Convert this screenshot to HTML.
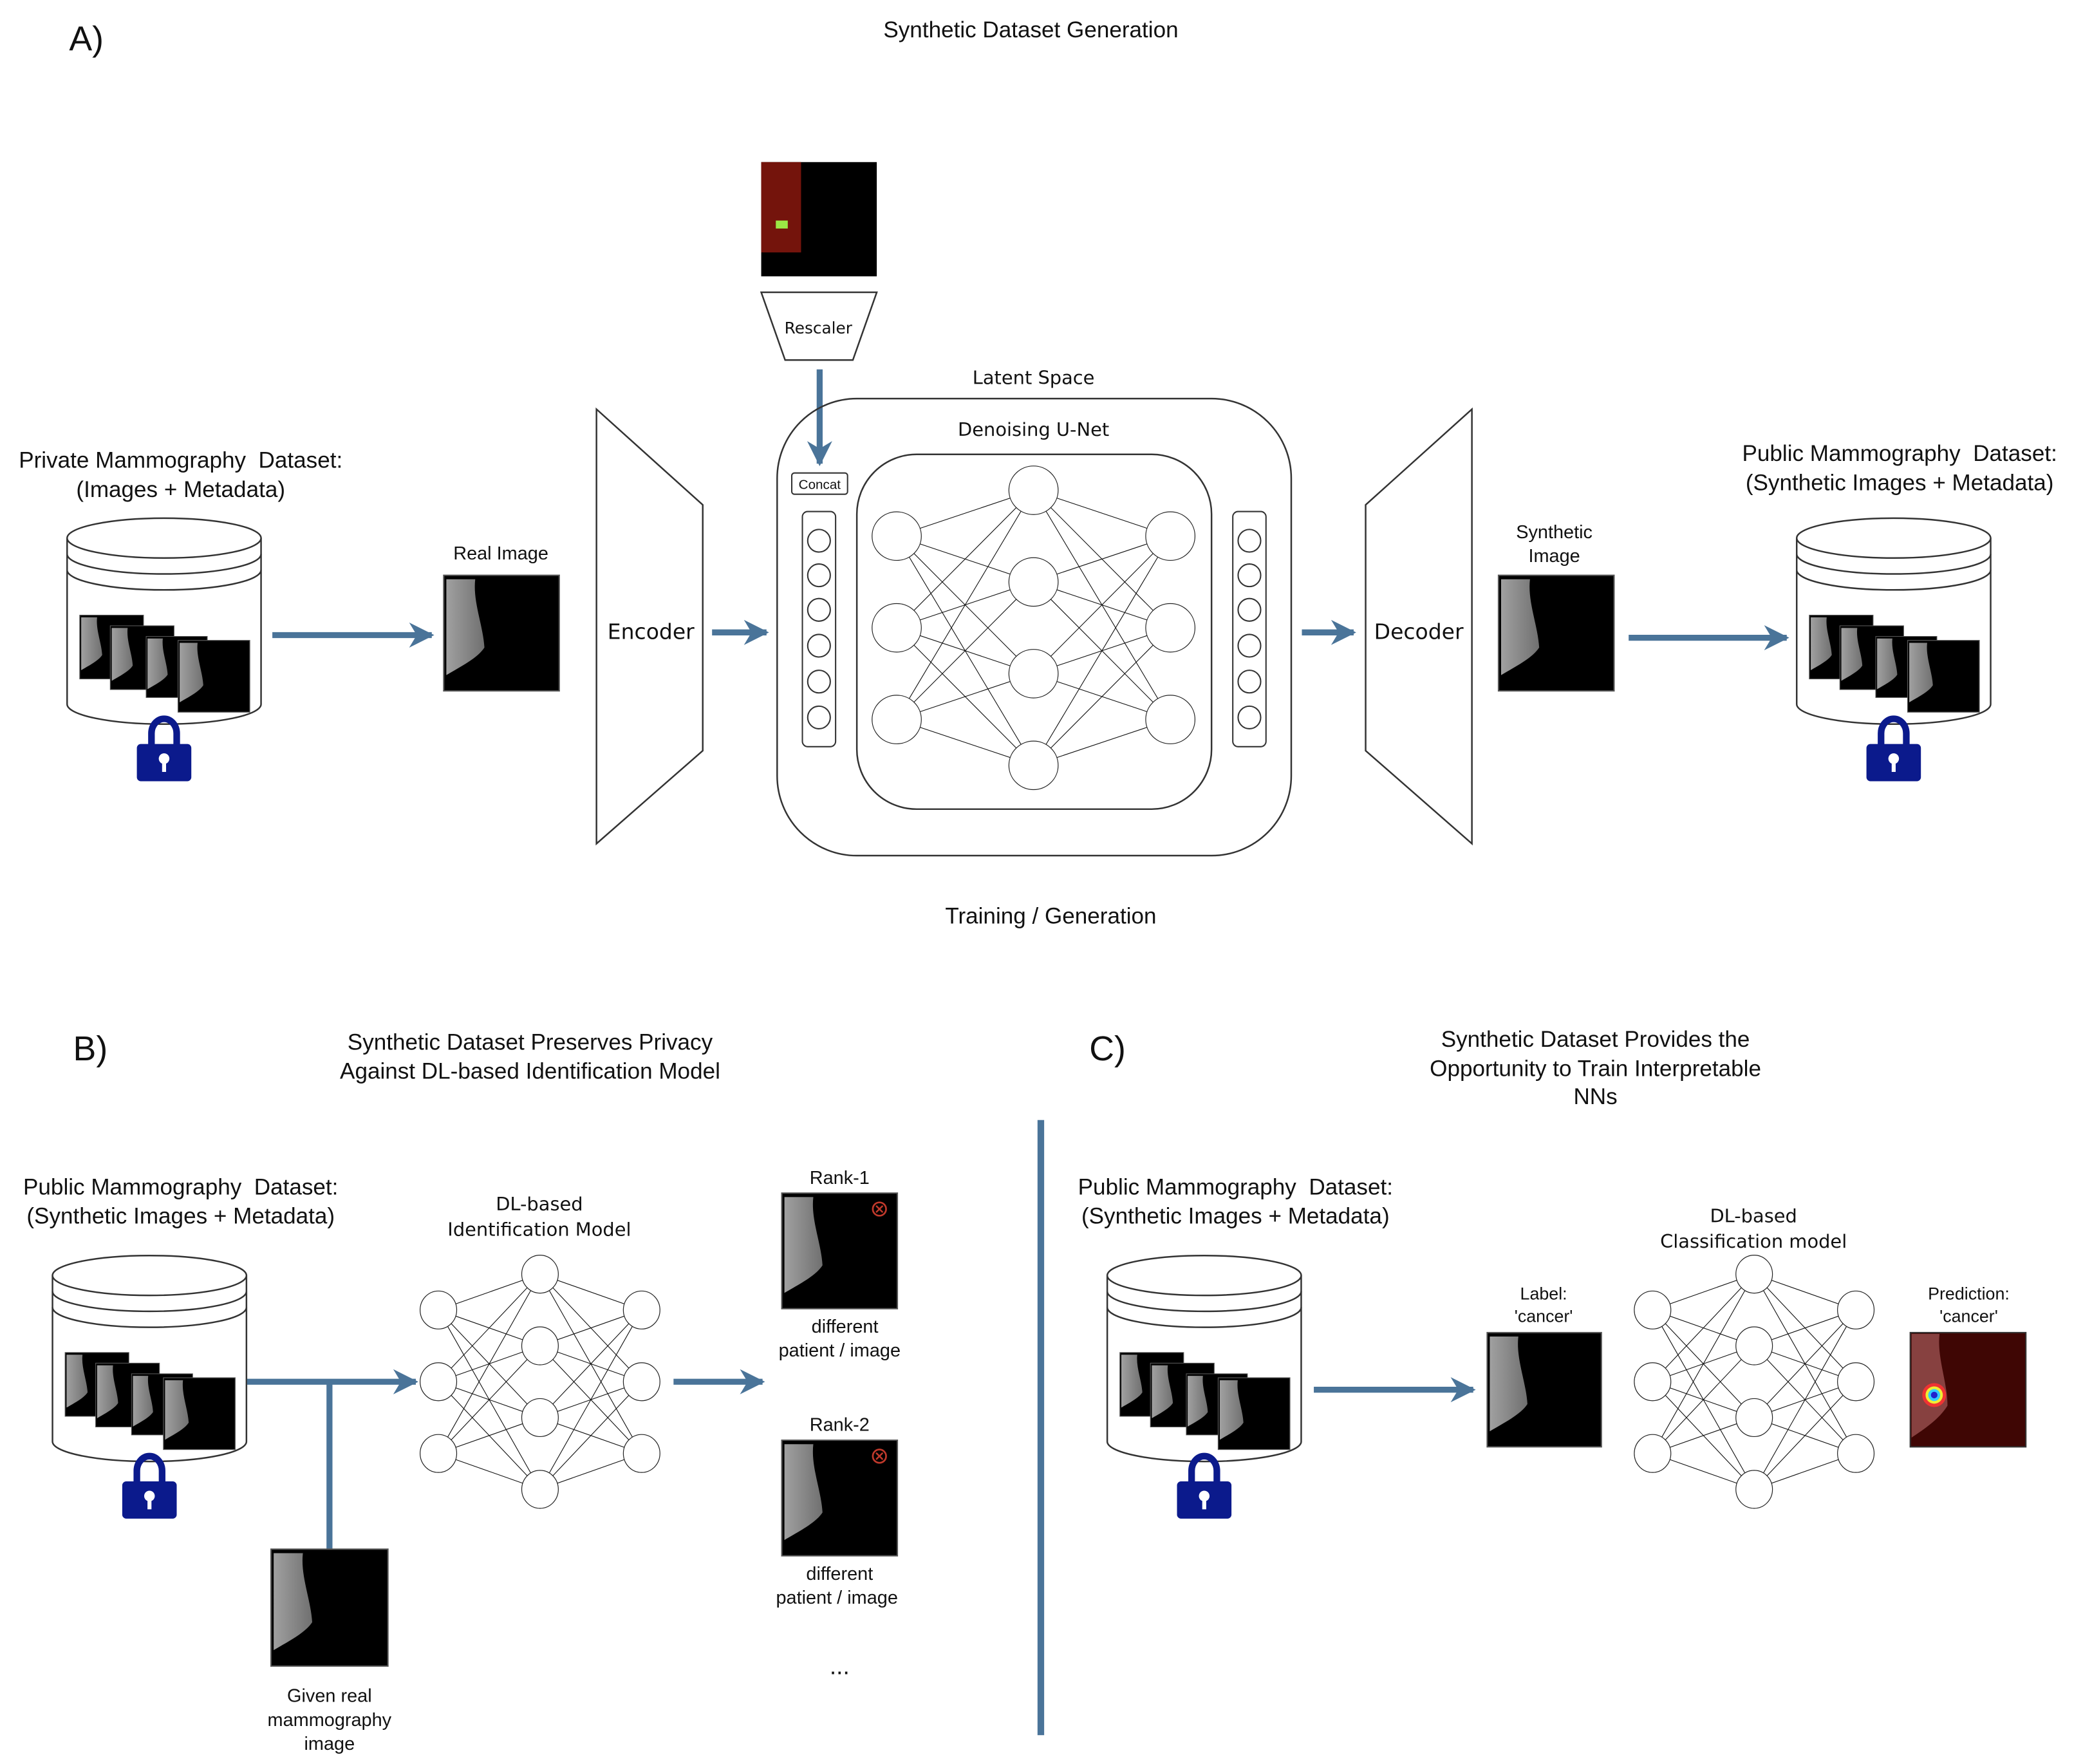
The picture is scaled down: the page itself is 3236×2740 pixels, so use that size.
<!DOCTYPE html>
<html><head><meta charset="utf-8"><style>
html,body{margin:0;padding:0;background:#fff;}
svg{display:block}
.t{font-family:"Liberation Sans",sans-serif;fill:#111;text-anchor:middle;white-space:pre}
.h{font-family:"DejaVu Sans",sans-serif;fill:#111;text-anchor:middle}
</style></head><body>
<svg width="3236" height="2740" viewBox="0 0 1568 1327.7" xmlns="http://www.w3.org/2000/svg">
<defs>
<linearGradient id="g" x1="0" x2="1"><stop offset="0" stop-color="#a0a0a0"/><stop offset="1" stop-color="#707070"/></linearGradient>
<symbol id="mm" viewBox="0 0 88 88" overflow="visible">
<rect x="0" y="0" width="88" height="88" fill="#000" stroke="#555" stroke-width="1"/>
<path d="M2 3 H24 C22 20 30 38 31 55 C26 63 12 70 2 76 Z" fill="url(#g)"/>
</symbol>
<symbol id="net" overflow="visible">
<path d="M0 34L100 0M0 34L100 68M0 34L100 136M0 34L100 204M0 102L100 0M0 102L100 68M0 102L100 136M0 102L100 204M0 170L100 0M0 170L100 68M0 170L100 136M0 170L100 204M200 34L100 0M200 34L100 68M200 34L100 136M200 34L100 204M200 102L100 0M200 102L100 68M200 102L100 136M200 102L100 204M200 170L100 0M200 170L100 68M200 170L100 136M200 170L100 204" stroke="#111" stroke-width="1.1" vector-effect="non-scaling-stroke" fill="none"/>
<g fill="#fff" stroke="#222" stroke-width="1.2">
<circle cx="0" cy="34" r="18" vector-effect="non-scaling-stroke"/><circle cx="0" cy="102" r="18" vector-effect="non-scaling-stroke"/><circle cx="0" cy="170" r="18" vector-effect="non-scaling-stroke"/>
<circle cx="100" cy="0" r="18" vector-effect="non-scaling-stroke"/><circle cx="100" cy="68" r="18" vector-effect="non-scaling-stroke"/><circle cx="100" cy="136" r="18" vector-effect="non-scaling-stroke"/><circle cx="100" cy="204" r="18" vector-effect="non-scaling-stroke"/>
<circle cx="200" cy="34" r="18" vector-effect="non-scaling-stroke"/><circle cx="200" cy="102" r="18" vector-effect="non-scaling-stroke"/><circle cx="200" cy="170" r="18" vector-effect="non-scaling-stroke"/>
</g>
</symbol>
<symbol id="cyl" overflow="visible">
<path d="M0.5 15 V140 A73 15 0 0 0 146.5 140 V15" fill="#fff" stroke="#333" stroke-width="1.2"/>
<ellipse cx="73.5" cy="15" rx="73" ry="15" fill="#fff" stroke="#333" stroke-width="1.2"/>
<path d="M0.5 27 A73 15 0 0 0 146.5 27 M0.5 39 A73 15 0 0 0 146.5 39" fill="none" stroke="#333" stroke-width="1.2"/>
<use href="#mm" x="10" y="68" width="48" height="58"/>
<use href="#mm" x="33" y="76" width="48" height="58"/>
<use href="#mm" x="60" y="84" width="46" height="56"/>
<use href="#mm" x="84" y="92" width="54" height="54"/>
<path d="M64 172 V162 A9.5 11 0 0 1 83 162 V172" fill="none" stroke="#0b1a8c" stroke-width="5"/>
<rect x="53" y="170" width="41" height="28" rx="3" fill="#0b1a8c"/>
<circle cx="73.5" cy="181" r="4" fill="#fff"/><rect x="72" y="182" width="3" height="9" fill="#fff"/>
</symbol>
<marker id="ar" viewBox="0 0 10 10" refX="9" refY="5" markerWidth="4.2" markerHeight="4.2" orient="auto"><path d="M0 0 L10 5 L0 10 L3 5 Z" fill="#4a7499"/></marker>
</defs>

<!-- A -->
<text x="52" y="38" class="t" style="text-anchor:start;font-size:26px">A)</text>
<text x="776" y="28" class="t" font-size="17">Synthetic Dataset Generation</text>
<text x="136" y="352" class="t" font-size="17">Private Mammography  Dataset:</text>
<text x="136" y="374" class="t" font-size="17">(Images + Metadata)</text>
<use href="#cyl" x="50" y="390"/>
<g stroke="#4a7499" stroke-width="4.5" fill="none">
<line x1="205" y1="478" x2="325" y2="478" marker-end="url(#ar)"/>
<line x1="536" y1="476" x2="577" y2="476" marker-end="url(#ar)"/>
<line x1="617" y1="278" x2="617" y2="349" marker-end="url(#ar)"/>
<line x1="980" y1="476" x2="1019" y2="476" marker-end="url(#ar)"/>
<line x1="1226" y1="480" x2="1345" y2="480" marker-end="url(#ar)"/>
</g>
<text x="377" y="421" class="t" font-size="14">Real Image</text>
<use href="#mm" x="334" y="433" width="87" height="87"/>
<polygon points="449,308 529,380 529,565 449,635" fill="#fff" stroke="#333" stroke-width="1.2"/>
<text x="490" y="481" class="h" font-size="16">Encoder</text>
<rect x="573" y="122" width="87" height="86" fill="#000"/>
<rect x="573" y="122" width="30" height="68" fill="#74140c"/>
<rect x="584" y="166" width="9" height="6" fill="#9be645"/>
<polygon points="573,220 660,220 642,271 591,271" fill="#fff" stroke="#333" stroke-width="1.2"/>
<text x="616" y="251" class="h" font-size="12">Rescaler</text>
<text x="778" y="289" class="h" font-size="14">Latent Space</text>
<rect x="585" y="300" width="387" height="344" rx="60" fill="none" stroke="#333" stroke-width="1.2"/>
<text x="778" y="328" class="h" font-size="14">Denoising U-Net</text>
<rect x="645" y="342" width="267" height="267" rx="45" fill="none" stroke="#333" stroke-width="1.2"/>
<rect x="596" y="356" width="42" height="16" rx="2" fill="#fff" stroke="#333"/>
<text x="617" y="368" class="t" font-size="10">Concat</text>
<rect x="604" y="385" width="25" height="177" rx="4" fill="#fff" stroke="#333"/>
<rect x="928" y="385" width="25" height="177" rx="4" fill="#fff" stroke="#333"/>
<g fill="#fff" stroke="#333">
<circle cx="616.5" cy="407" r="8.5"/><circle cx="616.5" cy="433" r="8.5"/><circle cx="616.5" cy="459" r="8.5"/><circle cx="616.5" cy="486" r="8.5"/><circle cx="616.5" cy="513" r="8.5"/><circle cx="616.5" cy="540" r="8.5"/>
<circle cx="940.5" cy="407" r="8.5"/><circle cx="940.5" cy="433" r="8.5"/><circle cx="940.5" cy="459" r="8.5"/><circle cx="940.5" cy="486" r="8.5"/><circle cx="940.5" cy="513" r="8.5"/><circle cx="940.5" cy="540" r="8.5"/>
</g>
<use href="#net" transform="translate(675,369) scale(1.03,1.015)"/>
<polygon points="1028,380 1108,308 1108,635 1028,565" fill="#fff" stroke="#333" stroke-width="1.2"/>
<text x="1068" y="481" class="h" font-size="16">Decoder</text>
<text x="1170" y="405" class="t" font-size="14">Synthetic</text>
<text x="1170" y="423" class="t" font-size="14">Image</text>
<use href="#mm" x="1128" y="433" width="87" height="87"/>
<text x="1430" y="347" class="t" font-size="17">Public Mammography  Dataset:</text>
<text x="1430" y="369" class="t" font-size="17">(Synthetic Images + Metadata)</text>
<use href="#cyl" x="1352" y="390"/>
<text x="791" y="695" class="t" font-size="17">Training / Generation</text>

<!-- B -->
<text x="55" y="798" class="t" style="text-anchor:start;font-size:26px">B)</text>
<text x="399" y="790" class="t" font-size="17">Synthetic Dataset Preserves Privacy</text>
<text x="399" y="812" class="t" font-size="17">Against DL-based Identification Model</text>
<text x="136" y="899" class="t" font-size="17">Public Mammography  Dataset:</text>
<text x="136" y="921" class="t" font-size="17">(Synthetic Images + Metadata)</text>
<use href="#cyl" x="39" y="945"/>
<g stroke="#4a7499" stroke-width="4.5" fill="none">
<line x1="186" y1="1040" x2="313" y2="1040" marker-end="url(#ar)"/>
<line x1="248" y1="1040" x2="248" y2="1166"/>
<line x1="507" y1="1040" x2="574" y2="1040" marker-end="url(#ar)"/>
<line x1="989" y1="1046" x2="1109" y2="1046" marker-end="url(#ar)"/>
</g>
<rect x="781" y="843" width="5" height="463" fill="#4a7499"/>
<use href="#mm" x="204" y="1166" width="88" height="88"/>
<text x="248" y="1281" class="t" font-size="14">Given real</text>
<text x="248" y="1299" class="t" font-size="14">mammography</text>
<text x="248" y="1317" class="t" font-size="14">image</text>
<text x="406" y="911" class="h" font-size="14">DL-based</text>
<text x="406" y="930" class="h" font-size="14">Identification Model</text>
<use href="#net" transform="translate(330,959) scale(0.765,0.794)"/>
<text x="632" y="891" class="t" font-size="14">Rank-1</text>
<use href="#mm" x="588" y="898" width="88" height="87"/>
<circle cx="662" cy="910" r="5" fill="none" stroke="#c0392b" stroke-width="1.3"/><path d="M659.5 907.5l5 5m0-5l-5 5" stroke="#c0392b" stroke-width="1.2"/>
<text x="636" y="1003" class="t" font-size="14">different</text>
<text x="632" y="1021" class="t" font-size="14">patient / image</text>
<text x="632" y="1077" class="t" font-size="14">Rank-2</text>
<use href="#mm" x="588" y="1084" width="88" height="87"/>
<circle cx="662" cy="1096" r="5" fill="none" stroke="#c0392b" stroke-width="1.3"/><path d="M659.5 1093.5l5 5m0-5l-5 5" stroke="#c0392b" stroke-width="1.2"/>
<text x="632" y="1189" class="t" font-size="14">different</text>
<text x="630" y="1207" class="t" font-size="14">patient / image</text>
<text x="632" y="1260" class="t" font-size="18">...</text>

<!-- C -->
<text x="820" y="798" class="t" style="text-anchor:start;font-size:26px">C)</text>
<text x="1201" y="788" class="t" font-size="17">Synthetic Dataset Provides the</text>
<text x="1201" y="810" class="t" font-size="17">Opportunity to Train Interpretable</text>
<text x="1201" y="831" class="t" font-size="17">NNs</text>
<text x="930" y="899" class="t" font-size="17">Public Mammography  Dataset:</text>
<text x="930" y="921" class="t" font-size="17">(Synthetic Images + Metadata)</text>
<use href="#cyl" x="833" y="945"/>
<text x="1162" y="978" class="t" font-size="13">Label:</text>
<text x="1162" y="995" class="t" font-size="13">'cancer'</text>
<use href="#mm" x="1119" y="1003" width="87" height="86"/>
<text x="1320" y="920" class="h" font-size="14">DL-based</text>
<text x="1320" y="939" class="h" font-size="14">Classification model</text>
<use href="#net" transform="translate(1244,959) scale(0.765,0.794)"/>
<text x="1482" y="978" class="t" font-size="13">Prediction:</text>
<text x="1482" y="995" class="t" font-size="13">'cancer'</text>
<rect x="1438" y="1003" width="87" height="86" fill="#3f0604" stroke="#333"/>
<path d="M1439 1004 H1460 C1458 1022 1466 1040 1466 1058 C1460 1068 1448 1076 1439 1082 Z" fill="#9a5050" opacity="0.8"/>
<circle cx="1456" cy="1050" r="9" fill="#e33"/><circle cx="1456" cy="1050" r="6.5" fill="#ee3"/><circle cx="1456" cy="1050" r="4.5" fill="#3cf"/><circle cx="1456" cy="1050" r="2.5" fill="#22c"/>
</svg>
</body></html>
